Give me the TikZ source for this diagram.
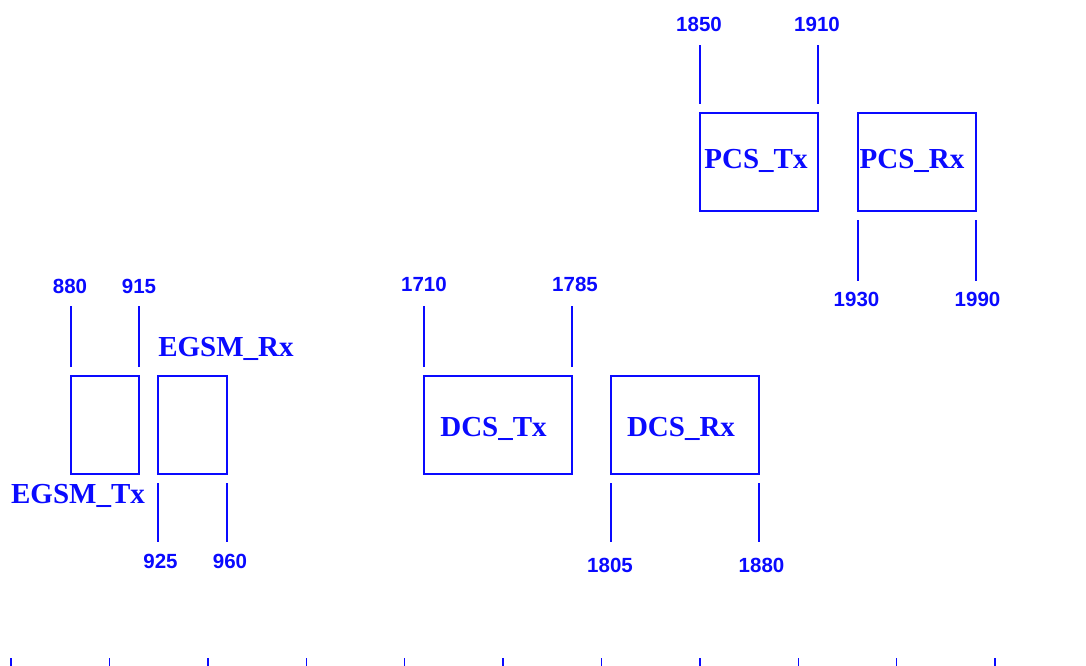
\documentclass[tikz,border=0pt]{standalone}
\usepackage{fontspec}
\setmainfont{Liberation Serif}
\newfontfamily\numfont{Liberation Sans}
\definecolor{bandblue}{RGB}{10,10,255}
\begin{document}
\begin{tikzpicture}[x=1pt,y=-1pt,
  box/.style={draw=bandblue, line width=1.6pt, inner sep=0pt, outer sep=0pt, minimum height=98pt},
  markline/.style={draw=bandblue, line width=1.6pt},
  tickline/.style={draw=bandblue, line width=1.4pt},
  num/.style={text=bandblue, anchor=base, inner sep=0pt, font=\numfont\bfseries\fontsize{20.5}{20.5}\selectfont},
  bandlabel/.style={text=bandblue, anchor=base, inner sep=0pt, font=\bfseries\fontsize{29}{29}\selectfont}]
\useasboundingbox (0,0) rectangle (1086,666);
% boxes
\node[box, minimum width=68pt]  (egsmtx) at (105,425) {};
\node[box, minimum width=69pt]  (egsmrx) at (192.5,425) {};
\node[box, minimum width=148pt] (dcstx)  at (498,425) {};
\node[box, minimum width=148pt] (dcsrx)  at (685,425) {};
\node[box, minimum width=118pt] (pcstx)  at (759,162) {};
\node[box, minimum width=118pt] (pcsrx)  at (917,162) {};
% band labels
\node[bandlabel] (tEGSMtx) at (78,503)    {EGSM\_Tx};
\node[bandlabel] (tEGSMrx) at (226,356)   {EGSM\_Rx};
\node[bandlabel] (tDCStx)  at (493.5,436) {DCS\_Tx};
\node[bandlabel] (tDCSrx)  at (681,436)   {DCS\_Rx};
\node[bandlabel] (tPCStx)  at (756,168)   {PCS\_Tx};
\node[bandlabel] (tPCSrx)  at (912,168)   {PCS\_Rx};
% edge marker lines (above for Tx, below for Rx)
\draw[markline] ([yshift=9pt]egsmtx.north west) -- ++(0,-61);
\draw[markline] ([yshift=9pt]egsmtx.north east) -- ++(0,-61);
\draw[markline] ([yshift=-9pt]egsmrx.south west) -- ++(0,59);
\draw[markline] ([yshift=-9pt]egsmrx.south east) -- ++(0,59);
\draw[markline] ([yshift=9pt]dcstx.north west) -- ++(0,-61);
\draw[markline] ([yshift=9pt]dcstx.north east) -- ++(0,-61);
\draw[markline] ([yshift=-9pt]dcsrx.south west) -- ++(0,59);
\draw[markline] ([yshift=-9pt]dcsrx.south east) -- ++(0,59);
\draw[markline] ([yshift=9pt]pcstx.north west) -- ++(0,-59);
\draw[markline] ([yshift=9pt]pcstx.north east) -- ++(0,-59);
\draw[markline] ([yshift=-9pt]pcsrx.south west) -- ++(0,61);
\draw[markline] ([yshift=-9pt]pcsrx.south east) -- ++(0,61);
% frequency numbers
\node[num] (n880)  at (70,293)    {880};
\node[num] (n915)  at (139,293)   {915};
\node[num] (n925)  at (160.5,568) {925};
\node[num] (n960)  at (230,568)   {960};
\node[num] (n1710) at (424,291)   {1710};
\node[num] (n1785) at (575,291)   {1785};
\node[num] (n1805) at (610,572)   {1805};
\node[num] (n1880) at (761.5,572) {1880};
\node[num] (n1850) at (699,31.5)  {1850};
\node[num] (n1910) at (817,31.5)  {1910};
\node[num] (n1930) at (856.5,306) {1930};
\node[num] (n1990) at (977.5,306) {1990};
% bottom scale ticks
\foreach \i in {0,...,10}
  \draw[tickline] ({11+98.4*\i},658) -- ({11+98.4*\i},666);
\end{tikzpicture}
\end{document}
